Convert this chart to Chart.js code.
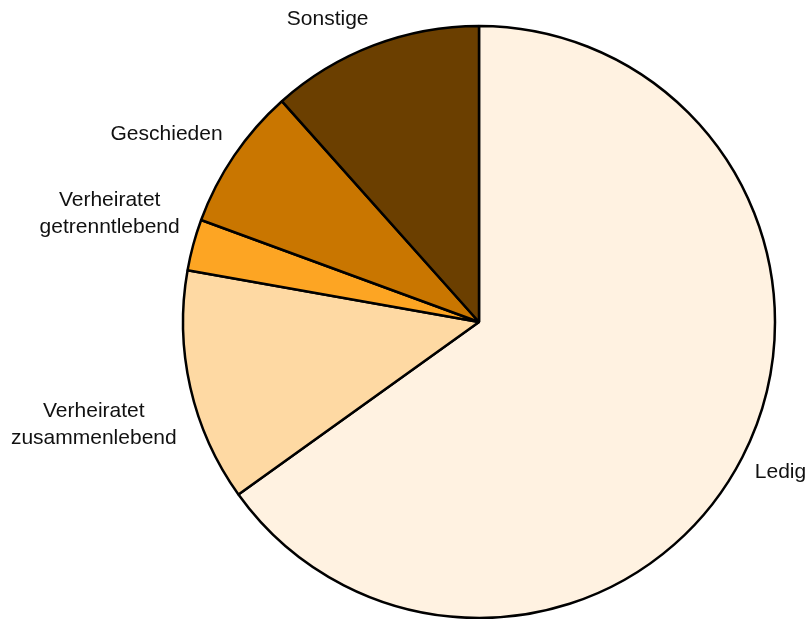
<!DOCTYPE html>
<html lang="de">
<head>
    <meta charset="UTF-8">
    <title>Familienstand</title>
    <script src="https://cdn.jsdelivr.net/npm/chart.js@4"></script>
    <style>
        body { margin: 0; background: #fff; }
        #wrap { width: 809px; height: 619px; }
    </style>
</head>
<body>
    <div id="wrap"><canvas id="pieChart"></canvas></div>

    <script>
        // Werte (Anteile in %), im Uhrzeigersinn ab 12 Uhr
        const categories = ['Ledig', ['Verheiratet', 'zusammenlebend'], ['Verheiratet', 'getrenntlebend'], 'Geschieden', 'Sonstige'];
        const shares = [65.1, 12.7, 2.8, 7.8, 11.6];
        const sliceColors = ['#fff2e1', '#fed9a3', '#fda523', '#c97600', '#6b3f00'];

        // Beschriftungen ausserhalb des Kreises, Ecke der Textbox am Ankerpunkt
        const outsideLabels = {
            id: 'outsideLabels',
            afterDatasetsDraw(chart) {
                const ctx = chart.ctx;
                const meta = chart.getDatasetMeta(0);
                const lineH = 27;
                const nudgeY = [-5, 7, 0, 0, 0]; // kleine Korrekturen
                ctx.save();
                ctx.font = '21px "Liberation Sans", Arial, sans-serif';
                ctx.fillStyle = '#111';
                ctx.textAlign = 'center';
                ctx.textBaseline = 'middle';
                meta.data.forEach((arc, i) => {
                    const p = arc.getProps(['x', 'y', 'startAngle', 'endAngle', 'outerRadius'], true);
                    const mid = (p.startAngle + p.endAngle) / 2;
                    const d = p.outerRadius + 14;
                    const ax = p.x + Math.cos(mid) * d;
                    const ay = p.y + Math.sin(mid) * d;
                    const lines = [].concat(chart.data.labels[i]);
                    const w = Math.max(...lines.map(l => ctx.measureText(l).width));
                    const h = lines.length * lineH;
                    const left = ax < p.x ? ax - w : ax;
                    const top = (ay < p.y ? ay - h : ay) + nudgeY[i];
                    lines.forEach((l, k) => {
                        ctx.fillText(l, left + w / 2, top + lineH * (k + 0.5));
                    });
                });
                ctx.restore();
            }
        };

        const ctx = document.getElementById('pieChart').getContext('2d');
        const pieChart = new Chart(ctx, {
            type: 'pie',
            data: {
                labels: categories,
                datasets: [{
                    data: shares,
                    backgroundColor: sliceColors,
                    borderColor: '#000',
                    borderWidth: 2.5
                }]
            },
            options: {
                responsive: true,
                maintainAspectRatio: false,
                animation: false,
                radius: 296,
                layout: { padding: { left: 149, right: 0, top: 25, bottom: 0 } },
                plugins: {
                    legend: { display: false },
                    tooltip: { enabled: false }
                }
            },
            plugins: [outsideLabels]
        });
    </script>
</body>
</html>
